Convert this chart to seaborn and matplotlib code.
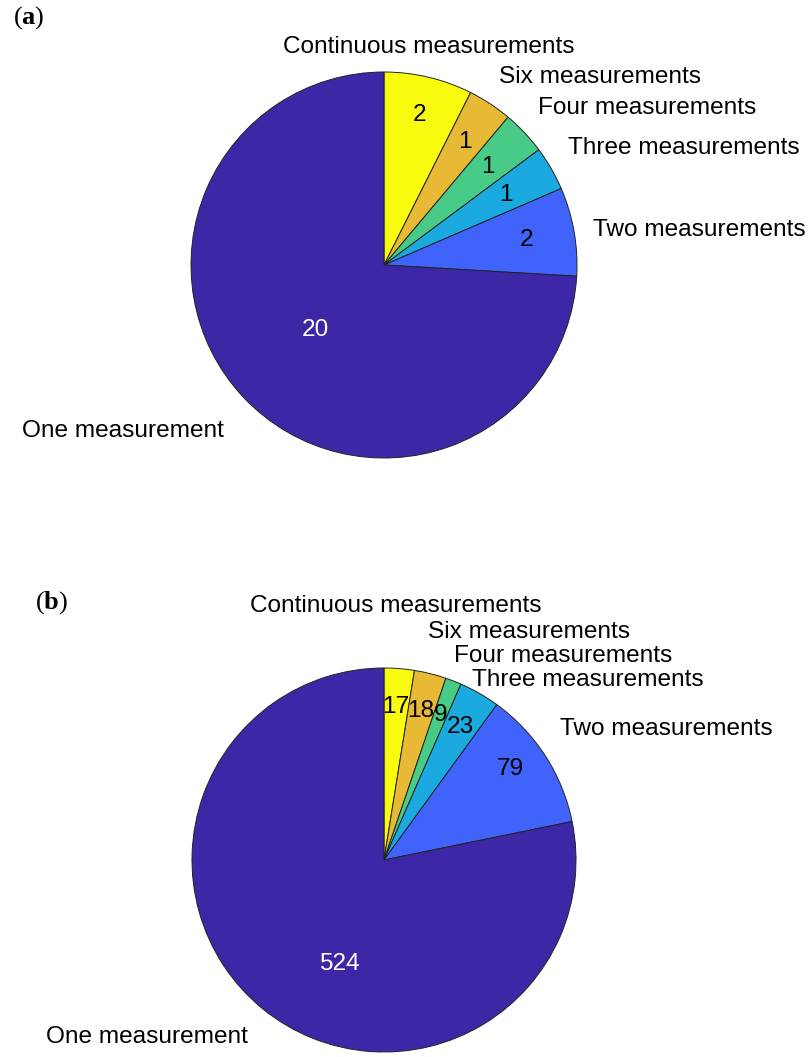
import numpy as np
import seaborn as sns
import matplotlib.pyplot as plt

# data
categories = ["Continuous measurements", "Six measurements", "Four measurements",
              "Three measurements", "Two measurements", "One measurement"]
counts_a = [2, 1, 1, 1, 2, 20]
counts_b = [17, 18, 9, 23, 79, 524]

# parula-like slice colours
colors = ["#f9fb0e", "#e8b935", "#48cb86", "#1aaadf", "#4064fb", "#3d27a6"]

sns.set_theme(style="white")
plt.rcParams["font.family"] = ["Liberation Sans", "DejaVu Sans"]
plt.rcParams["text.color"] = "black"
plt.rcParams["mathtext.fontset"] = "custom"
plt.rcParams["mathtext.bf"] = "Liberation Serif:bold"
plt.rcParams["mathtext.rm"] = "Liberation Serif"

W, H = 808, 1057
fig = plt.figure(figsize=(W / 100, H / 100), dpi=100)
ax = fig.add_axes([0, 0, 1, 1])

FS = 17.6


def draw_pie(values, cx, cy, R, num_r, label_ha, label_nudge, num_nudge):
    cy_up = H - cy
    ax.pie(values, colors=colors, startangle=90, counterclock=False,
           center=(cx, cy_up), radius=R, frame=True,
           wedgeprops=dict(edgecolor="#222222", linewidth=0.7))
    total = float(sum(values))
    edges = np.cumsum([0] + list(values)) / total * 360
    mids = (edges[:-1] + edges[1:]) / 2
    for i, (v, lab) in enumerate(zip(values, categories)):
        t = np.deg2rad(mids[i])
        s, c = np.sin(t), np.cos(t)
        # outer label, MATLAB style at 1.1 R
        va = "bottom" if c > 0.3 else ("top" if c < -0.3 else "center")
        dx, dy = label_nudge[i]
        ax.text(cx + 1.1 * R * s + dx, cy_up + 1.1 * R * c - dy, lab,
                ha=label_ha[i], va=va, fontsize=FS, color="black")
        # count inside the slice
        tn = np.deg2rad(mids[i] + num_nudge[i])
        ax.text(cx + num_r[i] * R * np.sin(tn), cy_up + num_r[i] * R * np.cos(tn),
                str(v), ha="center", va="center", fontsize=FS,
                color="white" if i == len(values) - 1 else "black")


ha_list = ["center", "left", "left", "left", "left", "right"]

draw_pie(counts_a, 384, 265, 193,
         [0.80, 0.76, 0.74, 0.73, 0.75, 0.49],
         ha_list,
         [(-4, 0), (-2, 0), (0, 0), (0, 0), (0, 2), (-6, 9)],
         [0, 0, 0, 0, 0, 0])
draw_pie(counts_b, 384, 860, 192,
         [0.80, 0.80, 0.81, 0.80, 0.81, 0.59],
         ha_list,
         [(-5, -32), (-7, -12), (-6, 4), (-17, 14), (-2, -6), (-3, 2)],
         [0, 0, 0, 0, -3, -16])

ax.text(13, H - 18, r"($\mathbf{a}$)", ha="left", va="center", fontsize=19,
        family="Liberation Serif", color="black")
ax.text(35, H - 603, r"($\mathbf{b}$)", ha="left", va="center", fontsize=19,
        family="Liberation Serif", color="black")

ax.set_xlim(0, W)
ax.set_ylim(0, H)
ax.set_aspect("auto")
ax.axis("off")

fig.savefig("out.png", dpi=100, facecolor="white")
